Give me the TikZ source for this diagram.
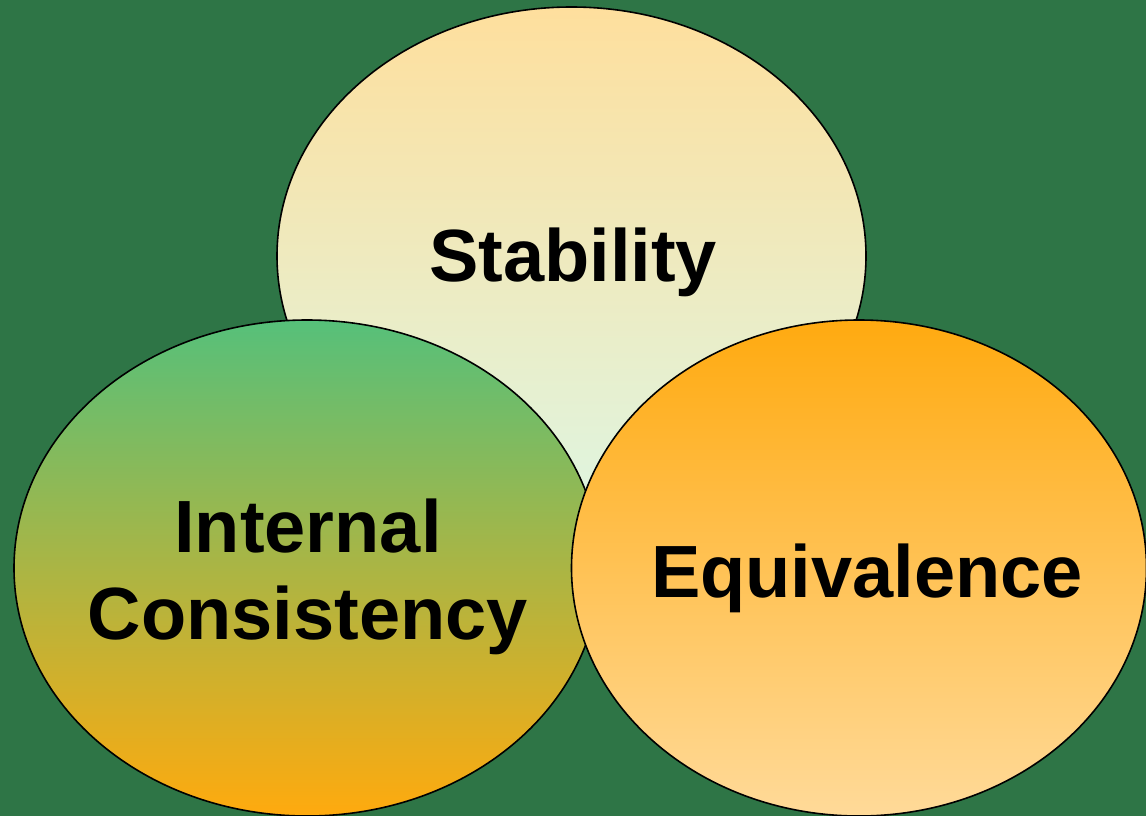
\documentclass[tikz,border=0pt]{standalone}
\usepackage{fontspec}
\setmainfont{Liberation Sans}
\usetikzlibrary{shapes.geometric}
\definecolor{bg}{RGB}{46,117,70}
\definecolor{stabtop}{RGB}{254,223,157}
\definecolor{stabbot}{RGB}{223,245,224}
\definecolor{ictop}{RGB}{86,192,122}
\definecolor{icbot}{RGB}{255,170,14}
\definecolor{eqtop}{RGB}{255,170,16}
\definecolor{eqbot}{RGB}{255,218,153}
\begin{document}
\begin{tikzpicture}[x=1pt,y=-1pt,
  blob/.style={ellipse, draw=black, line width=1.6pt, inner sep=0pt},
  lbl/.style={font=\fontsize{74}{87}\selectfont\bfseries, align=center, inner sep=0pt, text=black}]
\fill[bg] (0,0) rectangle (1146,816);
\useasboundingbox (0,0) rectangle (1146,816);
\node[blob, minimum width=589pt, minimum height=498pt, top color=stabtop, bottom color=stabbot] (stab) at (571.5,256) {};
\node[blob, minimum width=586pt, minimum height=496pt, top color=ictop, bottom color=icbot] (ic) at (307,568) {};
\node[blob, minimum width=575pt, minimum height=496pt, top color=eqtop, bottom color=eqbot] (eq) at (859,568) {};
\node[lbl, anchor=base] (tstab) at (573,281) {Stability};
\node[lbl, anchor=center] (tic) at (308,577) {Internal\\Consistency};
\node[lbl, anchor=base] (teq) at (867,597) {Equivalence};
\end{tikzpicture}
\end{document}
